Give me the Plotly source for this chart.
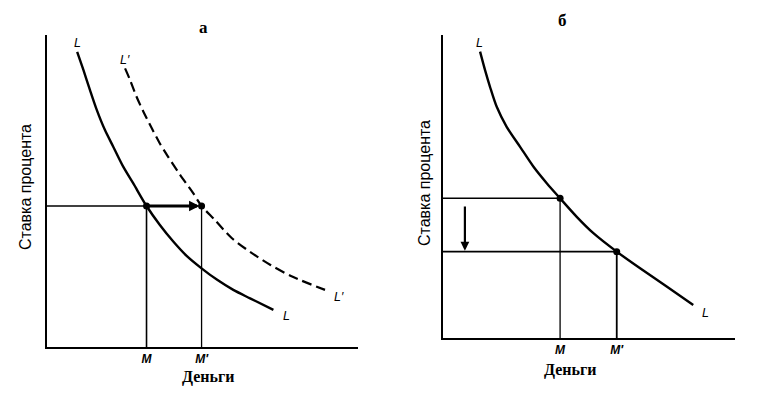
import plotly.graph_objects as go

# ---------- data (arbitrary units) ----------
# panel а
a_L_x = [0.97, 1.17, 1.38, 1.60, 1.86, 2.13, 2.45, 2.77, 3.20, 3.63, 4.06, 4.49, 4.97,
         5.46, 5.99, 6.53, 7.28]
a_L_y = [9.46, 8.88, 8.24, 7.60, 6.96, 6.42, 5.78, 5.25, 4.52, 3.91, 3.38, 2.92, 2.52,
         2.16, 1.83, 1.56, 1.19]
a_L2_x = [2.51, 2.67, 2.88, 3.10, 3.37, 3.62, 3.88, 4.28, 4.70, 4.97, 5.40, 5.93, 6.53,
          7.20, 7.90, 8.94]
a_L2_y = [8.93, 8.56, 8.02, 7.54, 7.01, 6.54, 6.12, 5.52, 4.93, 4.52, 4.07, 3.50, 3.05,
          2.62, 2.25, 1.83]
a_rate = 4.52
a_M = 3.20
a_M2 = 4.97

# panel б
b_L_x = [1.27, 1.44, 1.61, 1.84, 2.18, 2.64, 3.10, 3.56, 4.01, 4.58, 5.15, 5.95, 6.75, 7.66, 8.57]
b_L_y = [9.45, 8.84, 8.29, 7.63, 6.97, 6.31, 5.65, 5.10, 4.61, 4.00, 3.46, 2.85, 2.30, 1.70, 1.09]
b_rate1 = 4.61
b_rate2 = 2.85
b_M = 4.01
b_M2 = 5.95

tick_text = ["M", "M\u2032"]
x_title = "Деньги"
y_title = "Ставка процента"
titles = ["а", "б"]

BLACK = "black"
SERIF = "Liberation Serif"
SANS = "Liberation Sans"

# the page body has an 8px margin; lay the figure out in window pixels
OFF = 8
W, H = 759 - OFF, 394 - OFF


def px_x(px):
    return (px - OFF) / W


def px_y(py):
    return (394 - py) / H


fig = go.Figure()


def line(x, y, xa, ya, width, dash="solid", shape="linear"):
    fig.add_trace(go.Scatter(x=x, y=y, mode="lines", xaxis=xa, yaxis=ya,
                             line=dict(color=BLACK, width=width, dash=dash,
                                       shape=shape, smoothing=0.8),
                             hoverinfo="skip", showlegend=False))


# ---- panel а ----
line(a_L_x, a_L_y, "x", "y", 2.4, shape="spline")
line(a_L2_x, a_L2_y, "x", "y", 2.2, dash="10px,5px", shape="spline")
line([0, a_M], [a_rate, a_rate], "x", "y", 1.4)
line([a_M, a_M], [0, a_rate], "x", "y", 1.6)
line([a_M2, a_M2], [0, a_rate], "x", "y", 1.3)
fig.add_trace(go.Scatter(x=[a_M, a_M2], y=[a_rate, a_rate], mode="markers",
                         xaxis="x", yaxis="y",
                         marker=dict(color=BLACK, size=7), showlegend=False,
                         hoverinfo="skip"))

# ---- panel б ----
line(b_L_x, b_L_y, "x2", "y2", 2.4, shape="spline")
line([0, b_M], [b_rate1, b_rate1], "x2", "y2", 1.4)
line([0, b_M2], [b_rate2, b_rate2], "x2", "y2", 1.6)
line([b_M, b_M], [0, b_rate1], "x2", "y2", 1.3)
line([b_M2, b_M2], [0, b_rate2], "x2", "y2", 1.8)
fig.add_trace(go.Scatter(x=[b_M, b_M2], y=[b_rate1, b_rate2], mode="markers",
                         xaxis="x2", yaxis="y2",
                         marker=dict(color=BLACK, size=7), showlegend=False,
                         hoverinfo="skip"))

ann = []
# arrows
ann.append(dict(x=a_M2, y=a_rate, ax=a_M, ay=a_rate, xref="x", yref="y",
                axref="x", ayref="y", showarrow=True, arrowhead=2,
                arrowsize=0.7, arrowwidth=3, arrowcolor=BLACK, standoff=2, text=""))
ann.append(dict(x=0.75, y=b_rate2, ax=0.75, ay=b_rate1 - 0.22, xref="x2", yref="y2",
                axref="x2", ayref="y2", showarrow=True, arrowhead=2,
                arrowsize=0.8, arrowwidth=2.2, arrowcolor=BLACK, standoff=1, text=""))


def label(text, px, py, size=12.5, family=SANS, italic=True, bold=False, angle=0):
    ann.append(dict(text=text, x=px_x(px), y=px_y(py), xref="paper", yref="paper",
                    showarrow=False, textangle=angle,
                    xanchor="center", yanchor="middle",
                    font=dict(size=size, family=family, color=BLACK,
                              style="italic" if italic else "normal",
                              weight="bold" if bold else "normal")))


# curve labels
label("L", 77, 43)
label("L", 286, 316)
label("L\u2032", 125, 60)
label("L\u2032", 339, 297)
label("L", 479, 43)
label("L", 705, 313)

# titles and axis names
label(titles[0], 203, 28, size=17, family=SERIF, italic=False, bold=True)
label(titles[1], 562, 20, size=17, family=SERIF, italic=False, bold=True)
label(x_title, 208, 377, size=16, family=SERIF, italic=False, bold=True)
label(x_title, 570, 370, size=16, family=SERIF, italic=False, bold=True)
label(y_title, 25, 187, size=16, family=SANS, italic=False, angle=-90)
label(y_title, 425, 183, size=16, family=SANS, italic=False, angle=-90)

ax_common = dict(range=[0, 10], showgrid=False, zeroline=False, showline=True,
                 linecolor=BLACK, linewidth=1.5, ticks="", automargin=False,
                 fixedrange=True)
tickfont = dict(size=12, family=SANS, color=BLACK, style="italic", weight="bold")

fig.update_layout(
    width=W, height=H,
    margin=dict(l=0, r=0, t=0, b=0),
    paper_bgcolor="white", plot_bgcolor="white",
    showlegend=False,
    xaxis=dict(**ax_common, domain=[px_x(47), px_x(358)], anchor="y",
               tickvals=[a_M, a_M2], ticktext=tick_text, tickfont=tickfont),
    yaxis=dict(**ax_common, domain=[px_y(347), px_y(35)], anchor="x",
               showticklabels=False),
    xaxis2=dict(**ax_common, domain=[px_x(443), px_x(735)], anchor="y2",
                tickvals=[b_M, b_M2], ticktext=tick_text, tickfont=tickfont),
    yaxis2=dict(**ax_common, domain=[px_y(338), px_y(35)], anchor="x2",
                showticklabels=False),
    annotations=ann,
)

fig.write_html("out.html")
